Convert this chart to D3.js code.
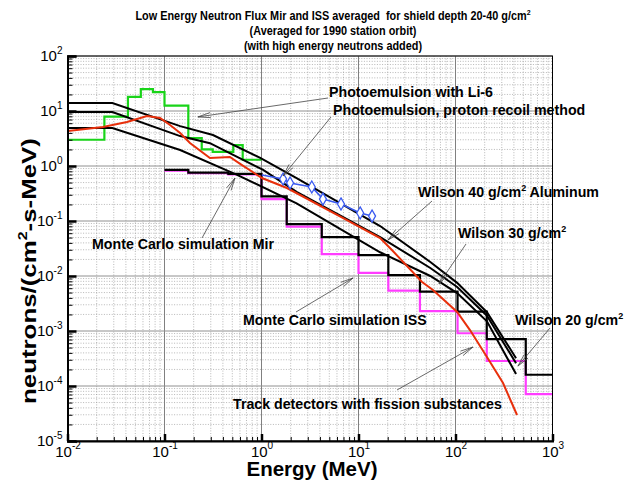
<!DOCTYPE html>
<html>
<head>
<meta charset="utf-8">
<script src="https://cdn.jsdelivr.net/npm/d3@7"></script>
<style>
    body { margin: 0; background: #fff; }
    text { font-family: "Liberation Sans", Arial, sans-serif; }
</style>
</head>
<body>
<svg id="chart" width="624" height="483"></svg>
<script>
// ---- data ----
var energyTicks = [1e-2, 1e-1, 1, 10, 100, 1000];
var fluxTicks = [1e-5, 1e-4, 1e-3, 1e-2, 1e-1, 1, 10, 100];

// Wilson transport calculations (three shield depths)
var wilson40E = [0.01, 0.029, 0.145, 0.316, 0.97, 2.3, 16.7, 55, 104, 211, 421];
var wilson40F = [14, 14, 5.3, 3.66, 1.4, 0.6, 0.081, 0.018, 0.0075, 0.0022, 3.2e-4];
var wilson30E = [0.01, 0.029, 0.145, 0.294, 1.04, 2.3, 16.7, 55, 104, 211, 421];
var wilson30F = [9.6, 9.6, 3.5, 2.6, 0.85, 0.34, 0.051, 0.014, 0.0063, 0.0019, 2.6e-4];
var wilson20E = [0.01, 0.029, 0.145, 0.56, 2.3, 16.7, 55, 104, 211, 421];
var wilson20F = [4.9, 4.9, 1.95, 0.69, 0.21, 0.027, 0.01, 0.0049, 0.0015, 1.65e-4];

// Monte Carlo histograms (same bins for Mir and ISS)
var mcEdges = [0.1, 0.176, 0.455, 1.0, 1.82, 4.18, 10, 20.3, 43, 105, 210, 530, 1000];
var mirFlux = [0.85, 0.76, 0.72, 0.28, 0.088, 0.051, 0.024, 0.0104, 0.0052, 0.00225, 7.1e-4, 1.6e-4];
var issFlux = [0.82, 0.74, 0.70, 0.25, 0.079, 0.025, 0.0114, 0.0054, 0.0023, 9.1e-4, 2.85e-4, 7.1e-5];

// Photoemulsion with Li-6 (histogram)
var li6Edges = [0.01, 0.024, 0.042, 0.057, 0.076, 0.1, 0.176, 0.242, 0.314, 0.512, 0.64, 1.0];
var li6Flux = [3.0, 7.9, 18, 25, 22, 12.5, 3.2, 2.0, 1.8, 2.4, 1.3];

// Track detectors with fission substances
var trackE = [0.0101, 0.0232, 0.041, 0.066, 0.09, 0.114, 0.145, 0.183, 0.294, 0.472, 0.63, 1.01,
              1.83, 7.6, 16.7, 22.1, 45.2, 58.6, 104, 141, 211, 309, 431];
var trackF = [4.33, 5.12, 6.31, 8.11, 7.46, 5.56, 3.98, 2.62, 1.40, 1.46, 1.04, 0.605,
              0.398, 0.104, 0.049, 0.0297, 0.00778, 0.00556, 0.00222, 0.00104, 3.37e-4, 1.13e-4, 2.97e-5];

// Photoemulsion, proton recoil method
var recoilE = [1.01, 1.67, 1.97, 3.3, 4.3, 6.6, 10.4, 13.8];
var recoilF = [0.686, 0.58, 0.49, 0.415, 0.25, 0.204, 0.14, 0.123];

(function (d3) {
    'use strict';

    var svg = d3.select("#chart");
    var left = 67.5, right = 552.5, top = 56, bottom = 441;

    var x = d3.scaleLog().domain([1e-2, 1e3]).range([left, right]);
    var y = d3.scaleLog().domain([1e-5, 1e2]).range([bottom, top]);

    var minorX = [], minorY = [];
    energyTicks.slice(0, -1).forEach(function (d) {
        for (var k = 2; k < 10; k++) minorX.push(k * d);
    });
    fluxTicks.slice(0, -1).forEach(function (d) {
        for (var k = 2; k < 10; k++) minorY.push(k * d);
    });

    // grid
    var grid = svg.append("g").attr("class", "grid");
    grid.selectAll("line.mx").data(minorX).enter().append("line")
        .attr("x1", function (d) { return x(d); }).attr("x2", function (d) { return x(d); })
        .attr("y1", top).attr("y2", bottom)
        .attr("stroke", "#9a9a9a").attr("stroke-width", 0.7).attr("stroke-dasharray", "1,1.6");
    grid.selectAll("line.my").data(minorY).enter().append("line")
        .attr("y1", function (d) { return y(d); }).attr("y2", function (d) { return y(d); })
        .attr("x1", left).attr("x2", right)
        .attr("stroke", "#9a9a9a").attr("stroke-width", 0.7).attr("stroke-dasharray", "1,1.6");
    grid.selectAll("line.Mx").data(energyTicks).enter().append("line")
        .attr("x1", function (d) { return x(d); }).attr("x2", function (d) { return x(d); })
        .attr("y1", top).attr("y2", bottom)
        .attr("stroke", "#808080").attr("stroke-width", 1);
    grid.selectAll("line.My").data(fluxTicks).enter().append("line")
        .attr("y1", function (d) { return y(d); }).attr("y2", function (d) { return y(d); })
        .attr("x1", left).attr("x2", right)
        .attr("stroke", "#909090").attr("stroke-width", 1);

    // clip for the curves
    svg.append("clipPath").attr("id", "plotclip").append("rect")
        .attr("x", left).attr("y", top).attr("width", right - left).attr("height", bottom - top);
    var plot = svg.append("g").attr("clip-path", "url(#plotclip)");

    var line = d3.line()
        .x(function (d) { return x(d[0]); })
        .y(function (d) { return y(d[1]); });
    var step = d3.line()
        .curve(d3.curveStepAfter)
        .x(function (d) { return x(d[0]); })
        .y(function (d) { return y(d[1]); });

    function pairs(xs, ys) { return xs.map(function (v, i) { return [v, ys[i]]; }); }
    function steps(edges, vals) {
        var pts = vals.map(function (v, i) { return [edges[i], v]; });
        pts.push([edges[edges.length - 1], vals[vals.length - 1]]);
        return pts;
    }

    plot.append("path").attr("d", step(steps(li6Edges, li6Flux)))
        .attr("fill", "none").attr("stroke", "#19d419").attr("stroke-width", 2.2);
    plot.append("path").attr("d", step(steps(mcEdges, issFlux)))
        .attr("fill", "none").attr("stroke", "#ff3cff").attr("stroke-width", 2.2);
    plot.append("path").attr("d", step(steps(mcEdges, mirFlux)))
        .attr("fill", "none").attr("stroke", "#000").attr("stroke-width", 2.2);

    [[wilson40E, wilson40F], [wilson30E, wilson30F], [wilson20E, wilson20F]].forEach(function (w) {
        plot.append("path").attr("d", line(pairs(w[0], w[1])))
            .attr("fill", "none").attr("stroke", "#000").attr("stroke-width", 2);
    });

    plot.append("path").attr("d", line(pairs(trackE, trackF)))
        .attr("fill", "none").attr("stroke", "#e8300c").attr("stroke-width", 2);

    var recoil = pairs(recoilE, recoilF);
    plot.append("path").attr("d", line(recoil))
        .attr("fill", "none").attr("stroke", "#3a5af0").attr("stroke-width", 1.6);
    plot.selectAll("path.dia").data(recoil.slice(1)).enter().append("path")
        .attr("transform", function (d) { return "translate(" + x(d[0]) + "," + y(d[1]) + ")"; })
        .attr("d", d3.symbol().type(d3.symbolDiamond).size(42))
        .attr("fill", "#fff").attr("stroke", "#3a5af0").attr("stroke-width", 1.3);

    // axes
    function powLabel(sel) {
        sel.selectAll(".tick text").each(function (d) {
            var t = d3.select(this).text(null).attr("font-size", 15).attr("fill", "#000");
            t.append("tspan").text("10");
            t.append("tspan").attr("font-size", 10).attr("dy", "-0.75em")
                .text(Math.round(Math.log10(d)));
        });
    }

    var xAxis = svg.append("g").attr("transform", "translate(0," + bottom + ")")
        .call(d3.axisBottom(x).tickValues(energyTicks).tickSize(-7).tickPadding(5).tickFormat(function () { return ""; }));
    xAxis.call(powLabel);
    xAxis.selectAll(".tick line").attr("stroke-width", 2.5);
    svg.append("g").attr("transform", "translate(0," + bottom + ")")
        .call(d3.axisBottom(x).tickValues(minorX).tickSize(-4).tickFormat(""))
        .select(".domain").remove();

    var yAxis = svg.append("g").attr("transform", "translate(" + left + ",0)")
        .call(d3.axisLeft(y).tickValues(fluxTicks).tickSize(-9).tickPadding(5).tickFormat(function () { return ""; }));
    yAxis.call(powLabel);
    yAxis.selectAll(".tick line").attr("stroke-width", 2.5);
    svg.append("g").attr("transform", "translate(" + left + ",0)")
        .call(d3.axisLeft(y).tickValues(minorY).tickSize(-5).tickFormat(""))
        .select(".domain").remove();

    svg.selectAll(".domain").attr("stroke-width", 2);
    svg.append("rect").attr("x", left).attr("y", top).attr("width", right - left).attr("height", bottom - top)
        .attr("fill", "none").attr("stroke", "#000").attr("stroke-width", 1);

    // titles (the original lettering is a little narrower than Arial)
    var titleLines = [
        ["Low Energy Neutron Flux Mir and ISS averaged  for shield depth 20-40 g/cm", "2"],
        ["(Averaged for 1990 station orbit)", ""],
        ["(with high energy neutrons added)", ""]
    ];
    titleLines.forEach(function (l, i) {
        var t = svg.append("text")
            .attr("transform", "translate(333," + (20 + i * 15) + ") scale(0.87,1)")
            .attr("text-anchor", "middle").attr("font-size", 12.5).attr("font-weight", "bold")
            .style("white-space", "pre");
        t.append("tspan").text(l[0]);
        if (l[1]) t.append("tspan").attr("font-size", 8).attr("dy", "-0.6em").text(l[1]);
    });

    svg.append("text")
        .attr("x", 312).attr("y", 476)
        .attr("text-anchor", "middle").attr("font-size", 20).attr("font-weight", "bold")
        .attr("textLength", 131).attr("lengthAdjust", "spacingAndGlyphs")
        .text("Energy (MeV)");

    var yt = svg.append("text")
        .attr("transform", "translate(36,271) rotate(-90)")
        .attr("text-anchor", "middle").attr("font-size", 21).attr("font-weight", "bold")
        .attr("textLength", 266).attr("lengthAdjust", "spacingAndGlyphs");
    yt.append("tspan").text("neutrons/(cm");
    yt.append("tspan").attr("font-size", 13).attr("dy", "-0.7em").text("2");
    yt.append("tspan").attr("dy", "0.45em").text("-s-MeV)");

    // annotations: text position in pixels, arrow tip in data units
    var notes = [
        { text: "Photoemulsion with Li-6", tx: 329, ty: 97, sx: 328, sy: 98, e: 0.221, f: 7.8 },
        { text: "Photoemulsion, proton recoil method", tx: 333, ty: 115, sx: 331, sy: 117, e: 1.67, f: 0.66 },
        { text: "Wilson 40 g/cm", sup: "2", rest: " Aluminum", tx: 418, ty: 197, sx: 432, sy: 201, e: 20.1, f: 0.045 },
        { text: "Wilson 30 g/cm", sup: "2", tx: 458, ty: 238, sx: 466, sy: 244, e: 67.6, f: 0.0072 },
        { text: "Wilson 20 g/cm", sup: "2", tx: 515, ty: 325, sx: 550, sy: 328, e: 440, f: 2.3e-4 },
        { text: "Monte Carlo simulation Mir", tx: 92, ty: 249, sx: 202, sy: 238, e: 0.533, f: 0.605 },
        { text: "Monte Carlo simulation ISS", tx: 243, ty: 325, sx: 296, sy: 312, e: 8.78, f: 0.0092 },
        { text: "Track detectors with fission substances", tx: 233, ty: 409, sx: 397, sy: 390, e: 151, f: 5.1e-4 }
    ];

    var ann = svg.append("g");
    notes.forEach(function (n) {
        var px = x(n.e), py = y(n.f);
        ann.append("line").attr("x1", n.sx).attr("y1", n.sy).attr("x2", px).attr("y2", py)
            .attr("stroke", "#444").attr("stroke-width", 0.8);
        var ang = Math.atan2(n.sy - py, n.sx - px), len = 13, spread = 0.2;
        [-spread, spread].forEach(function (s) {
            ann.append("line").attr("x1", px).attr("y1", py)
                .attr("x2", px + len * Math.cos(ang + s)).attr("y2", py + len * Math.sin(ang + s))
                .attr("stroke", "#444").attr("stroke-width", 0.8);
        });
        var t = ann.append("text")
            .attr("x", n.tx).attr("y", n.ty)
            .attr("font-size", 14.2).attr("font-weight", "bold");
        t.append("tspan").text(n.text);
        if (n.sup) t.append("tspan").attr("font-size", 9).attr("dy", "-0.7em").text(n.sup);
        if (n.rest) t.append("tspan").attr("dy", "0.45em").text(n.rest);
    });
})(d3);
</script>
</body>
</html>
